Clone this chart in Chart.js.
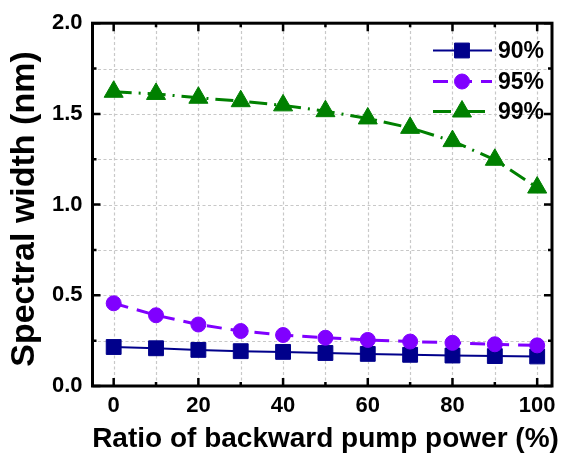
<!DOCTYPE html>
<html>
<head>
<meta charset="utf-8">
<script src="https://cdn.jsdelivr.net/npm/chart.js@4.4.1/dist/chart.umd.min.js"></script>
<style>
  html, body { margin: 0; padding: 0; background: #fff; }
  #wrap { width: 564px; height: 456px; }
</style>
</head>
<body>
<div id="wrap"><canvas id="chart" width="564" height="456"></canvas></div>
<script>
// backward pump power ratio (%)
const ratios = [0, 10, 20, 30, 40, 50, 60, 70, 80, 90, 100];

// spectral width (nm) for each reflectivity
const width90 = [0.215, 0.208, 0.199, 0.192, 0.188, 0.182, 0.177, 0.172, 0.168, 0.165, 0.163];
const width95 = [0.456, 0.390, 0.339, 0.303, 0.281, 0.266, 0.254, 0.245, 0.238, 0.230, 0.224];
const width99 = [1.622, 1.610, 1.589, 1.570, 1.547, 1.515, 1.475, 1.423, 1.350, 1.247, 1.094];

const seriesLabels = ['90%', '95%', '99%'];

// axis ticks
const xTicks = [0, 10, 20, 30, 40, 50, 60, 70, 80, 90, 100];
const yTicks = [0, 0.25, 0.5, 0.75, 1.0, 1.25, 1.5, 1.75, 2.0];

const FONT = "'Liberation Sans', Arial, sans-serif";

function toPoints(ys) {
  return ratios.map((x, i) => ({ x: x, y: ys[i] }));
}

function isHalf(v) {
  return Math.abs(v * 2 - Math.round(v * 2)) < 1e-6;
}

// dashed grid under the data
const gridPlugin = {
  id: 'dashGrid',
  beforeDatasetsDraw(chart) {
    const ctx = chart.ctx;
    const a = chart.chartArea;
    const xs = chart.scales.x;
    const ys = chart.scales.y;
    ctx.save();
    ctx.strokeStyle = '#c8c8c8';
    ctx.lineWidth = 1.2;
    ctx.setLineDash([3, 2.5]);
    xTicks.forEach(v => {
      const px = Math.round(xs.getPixelForValue(v)) + 0.5;
      ctx.beginPath();
      ctx.moveTo(px, a.bottom); ctx.lineTo(px, a.top);
      ctx.stroke();
    });
    yTicks.forEach(v => {
      if (v === 0 || v === 2) return;
      const py = Math.round(ys.getPixelForValue(v)) + 0.5;
      ctx.beginPath();
      ctx.moveTo(a.left, py); ctx.lineTo(a.right, py);
      ctx.stroke();
    });
    ctx.restore();
  }
};

// frame, inward ticks, legend and axis titles
const decorPlugin = {
  id: 'decor',
  afterDatasetsDraw(chart) {
    const ctx = chart.ctx;
    const a = chart.chartArea;
    const xs = chart.scales.x;
    const ys = chart.scales.y;
    ctx.save();

    // ticks on all four sides
    ctx.strokeStyle = '#000';
    ctx.lineWidth = 2.5;
    ctx.setLineDash([]);
    xTicks.forEach(v => {
      const px = xs.getPixelForValue(v);
      const len = v % 20 === 0 ? 8 : 4;
      ctx.beginPath();
      ctx.moveTo(px, a.bottom); ctx.lineTo(px, a.bottom - len);
      ctx.moveTo(px, a.top); ctx.lineTo(px, a.top + len);
      ctx.stroke();
    });
    yTicks.forEach(v => {
      const py = ys.getPixelForValue(v);
      const len = isHalf(v) ? 8 : 4;
      ctx.beginPath();
      ctx.moveTo(a.left, py); ctx.lineTo(a.left + len, py);
      ctx.moveTo(a.right, py); ctx.lineTo(a.right - len, py);
      ctx.stroke();
    });

    // frame
    ctx.lineWidth = 3;
    ctx.strokeRect(a.left, a.top, a.right - a.left, a.bottom - a.top);

    // legend
    const rows = [50.5, 81.5, 111.5];
    chart.data.datasets.forEach((ds, i) => {
      const y = rows[i];
      ctx.strokeStyle = ds.borderColor;
      ctx.lineWidth = ds.borderWidth;
      ctx.setLineDash(ds.borderDash || []);
      ctx.beginPath();
      ctx.moveTo(433, y); ctx.lineTo(492, y);
      ctx.stroke();
      ctx.setLineDash([]);
      ctx.fillStyle = ds.pointBackgroundColor;
      ctx.strokeStyle = ds.pointBorderColor;
      ctx.lineWidth = 1;
      Chart.helpers.drawPoint(ctx, {
        pointStyle: ds.pointStyle,
        radius: ds.pointRadius,
        rotation: 0,
        borderWidth: 1
      }, 462, y);
      ctx.fillStyle = '#000';
      ctx.font = 'bold 23px ' + FONT;
      ctx.textAlign = 'left';
      ctx.textBaseline = 'middle';
      ctx.fillText(ds.label, 498, y + 1);
    });

    // axis titles
    ctx.fillStyle = '#000';
    ctx.font = 'bold 28px ' + FONT;
    ctx.textAlign = 'center';
    ctx.textBaseline = 'alphabetic';
    ctx.fillText('Ratio of backward pump power (%)', 325.5, 446.5);

    ctx.save();
    ctx.translate(33.5, 209);
    ctx.rotate(-Math.PI / 2);
    ctx.font = 'bold 34px ' + FONT;
    ctx.fillText('Spectral width (nm)', 0, 0);
    ctx.restore();

    ctx.restore();
  }
};

new Chart(document.getElementById('chart'), {
  type: 'line',
  data: {
    datasets: [
      {
        label: seriesLabels[0],
        data: toPoints(width90),
        borderColor: '#00008b',
        borderWidth: 2,
        pointStyle: 'rect',
        pointRadius: 10.5,
        pointBackgroundColor: '#00008b',
        pointBorderColor: '#00008b',
        pointBorderWidth: 1,
        order: 3
      },
      {
        label: seriesLabels[1],
        data: toPoints(width95),
        borderColor: '#8000ff',
        borderWidth: 3,
        borderDash: [15, 9],
        pointStyle: 'circle',
        pointRadius: 7.5,
        pointBackgroundColor: '#8000ff',
        pointBorderColor: '#8000ff',
        pointBorderWidth: 1,
        order: 2
      },
      {
        label: seriesLabels[2],
        data: toPoints(width99),
        borderColor: '#008000',
        borderWidth: 3,
        borderDash: [18, 7, 2, 7],
        pointStyle: 'triangle',
        pointRadius: 11,
        pointBackgroundColor: '#008000',
        pointBorderColor: '#008000',
        pointBorderWidth: 1,
        order: 1
      }
    ]
  },
  options: {
    responsive: false,
    animation: false,
    devicePixelRatio: 1,
    layout: { padding: { left: 0, top: 21, right: 6.5, bottom: 0 } },
    plugins: {
      legend: { display: false },
      tooltip: { enabled: false }
    },
    scales: {
      x: {
        type: 'linear',
        min: -5,
        max: 103.5,
        afterBuildTicks: s => { s.ticks = xTicks.map(v => ({ value: v })); },
        afterFit: s => { s.height = 70; },
        grid: { display: false, drawTicks: false },
        border: { display: false },
        ticks: {
          padding: 7,
          color: '#000',
          font: { family: FONT, size: 22, weight: 'bold' },
          callback: v => (v % 20 === 0 ? String(v) : '')
        }
      },
      y: {
        min: 0,
        max: 2,
        afterBuildTicks: s => { s.ticks = yTicks.map(v => ({ value: v })); },
        afterFit: s => { s.width = 92.5; },
        grid: { display: false, drawTicks: false },
        border: { display: false },
        ticks: {
          padding: 10,
          color: '#000',
          font: { family: FONT, size: 22, weight: 'bold' },
          callback: v => (isHalf(v) ? v.toFixed(1) : '')
        }
      }
    }
  },
  plugins: [gridPlugin, decorPlugin]
});
</script>
</body>
</html>
